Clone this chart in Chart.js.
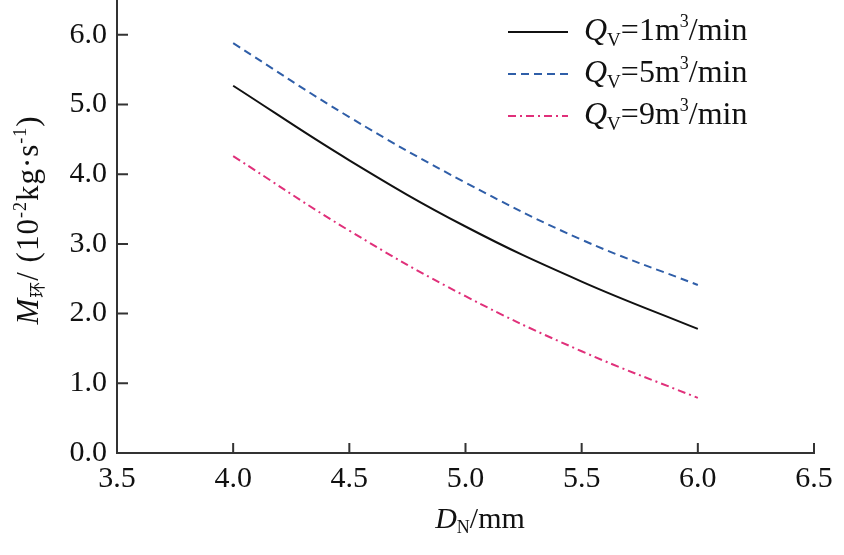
<!DOCTYPE html>
<html>
<head>
<meta charset="utf-8">
<script src="https://cdn.jsdelivr.net/npm/chart.js@4"></script>
<style>
  html, body { margin: 0; padding: 0; background: #fff; }
  #wrap { width: 844px; height: 555px; }
</style>
</head>
<body>
<div id="wrap"><canvas id="chart"></canvas></div>
<script>
const diameters = [4.0, 4.5, 5.0, 5.5, 6.0];
const flow1 = [5.27, 4.20, 3.25, 2.46, 1.78];
const flow5 = [5.88, 4.82, 3.88, 3.06, 2.41];
const flow9 = [4.26, 3.19, 2.25, 1.46, 0.79];
const seriesNames = ["1", "5", "9"];
const xTicks = [3.5, 4.0, 4.5, 5.0, 5.5, 6.0, 6.5];
const yTicks = [0, 1, 2, 3, 4, 5, 6];

const serif = '"Liberation Serif", "Times New Roman", serif';
const colors = ["#111111", "#2f5ea8", "#e0307a"];
const dashes = [[], [8, 5], [8, 4, 2, 4]];

const toPoints = ys => diameters.map((x, i) => ({ x: x, y: ys[i] }));

// draw a row of text pieces with different fonts / baseline shifts
function drawRuns(ctx, runs, x, y, align) {
  let total = 0;
  runs.forEach(r => { ctx.font = r.font; total += ctx.measureText(r.text).width; });
  let cx = align === "center" ? x - total / 2 : x;
  runs.forEach(r => {
    ctx.font = r.font;
    ctx.fillText(r.text, cx, y + (r.dy || 0));
    cx += ctx.measureText(r.text).width;
  });
}

const decorations = {
  id: "decorations",
  afterDraw(chart) {
    const ctx = chart.ctx;
    const xs = chart.scales.x, ys = chart.scales.y;
    const area = chart.chartArea;
    ctx.save();
    // inward tick marks
    ctx.strokeStyle = "#333";
    ctx.lineWidth = 2;
    ctx.beginPath();
    xTicks.forEach(v => {
      const px = xs.getPixelForValue(v);
      ctx.moveTo(px, area.bottom);
      ctx.lineTo(px, area.bottom - 10);
    });
    yTicks.forEach(v => {
      const py = ys.getPixelForValue(v);
      ctx.moveTo(area.left, py);
      ctx.lineTo(area.left + 11, py);
    });
    ctx.stroke();

    ctx.fillStyle = "#111";
    ctx.textBaseline = "alphabetic";
    ctx.textAlign = "left";

    // x title
    drawRuns(ctx, [
      { text: "D", font: "italic 30px " + serif },
      { text: "N", font: "18px " + serif, dy: 5 },
      { text: "/mm", font: "30px " + serif }
    ], 480, 528, "center");

    // y title
    ctx.save();
    ctx.translate(38, 220);
    ctx.rotate(-Math.PI / 2);
    ctx.letterSpacing = "1px";
    drawRuns(ctx, [
      { text: "M", font: "italic 31px " + serif },
      { text: "环", font: '16px "Noto Sans CJK SC", sans-serif', dy: 5 },
      { text: "/ (10", font: "31px " + serif },
      { text: "-2", font: "18px " + serif, dy: -12 },
      { text: "kg·s", font: "31px " + serif },
      { text: "-1", font: "18px " + serif, dy: -12 },
      { text: ")", font: "31px " + serif }
    ], 0, 0, "center");
    ctx.restore();

    // legend
    const rows = [32, 74, 116];
    seriesNames.forEach((n, i) => {
      const y = rows[i];
      ctx.strokeStyle = colors[i];
      ctx.lineWidth = 2;
      ctx.setLineDash(dashes[i]);
      ctx.beginPath();
      ctx.moveTo(508, y);
      ctx.lineTo(568, y);
      ctx.stroke();
      ctx.setLineDash([]);
      drawRuns(ctx, [
        { text: "Q", font: "italic 32px " + serif },
        { text: "V", font: "19px " + serif, dy: 6 },
        { text: "=" + n + "m", font: "32px " + serif },
        { text: "3", font: "18px " + serif, dy: -13 },
        { text: "/min", font: "32px " + serif }
      ], 584, y + 8, "left");
    });
    ctx.restore();
  }
};

const makeSet = (name, ys, i) => ({
  label: "QV=" + name + "m3/min",
  data: toPoints(ys),
  borderColor: colors[i],
  borderWidth: 2,
  borderDash: dashes[i],
  pointRadius: 0,
  fill: false,
  tension: 0.4
});

new Chart(document.getElementById("chart"), {
  type: "line",
  data: {
    datasets: [
      makeSet(seriesNames[0], flow1, 0),
      makeSet(seriesNames[1], flow5, 1),
      makeSet(seriesNames[2], flow9, 2)
    ]
  },
  options: {
    responsive: true,
    maintainAspectRatio: false,
    animation: false,
    layout: { padding: { top: 0, right: 30, left: 0, bottom: 0 } },
    plugins: { legend: { display: false }, tooltip: { enabled: false } },
    scales: {
      x: {
        type: "linear",
        min: 3.5,
        max: 6.5,
        afterBuildTicks: s => { s.ticks = xTicks.map(v => ({ value: v })); },
        afterFit: s => { s.height = 102; s.paddingLeft = 0; s.paddingRight = 0; },
        grid: { display: false, drawTicks: false },
        border: { display: true, color: "#333", width: 2 },
        ticks: {
          padding: 8,
          color: "#111",
          font: { family: serif, size: 30 },
          callback: v => Number(v).toFixed(1)
        }
      },
      y: {
        type: "linear",
        min: 0,
        max: 6.5,
        afterBuildTicks: s => { s.ticks = yTicks.map(v => ({ value: v })); },
        afterFit: s => { s.width = 117; s.paddingTop = 0; s.paddingBottom = 0; },
        grid: { display: false, drawTicks: false },
        border: { display: true, color: "#333", width: 2 },
        ticks: {
          padding: 10,
          color: "#111",
          font: { family: serif, size: 30 },
          callback: v => Number(v).toFixed(1)
        }
      }
    }
  },
  plugins: [decorations]
});
</script>
</body>
</html>
